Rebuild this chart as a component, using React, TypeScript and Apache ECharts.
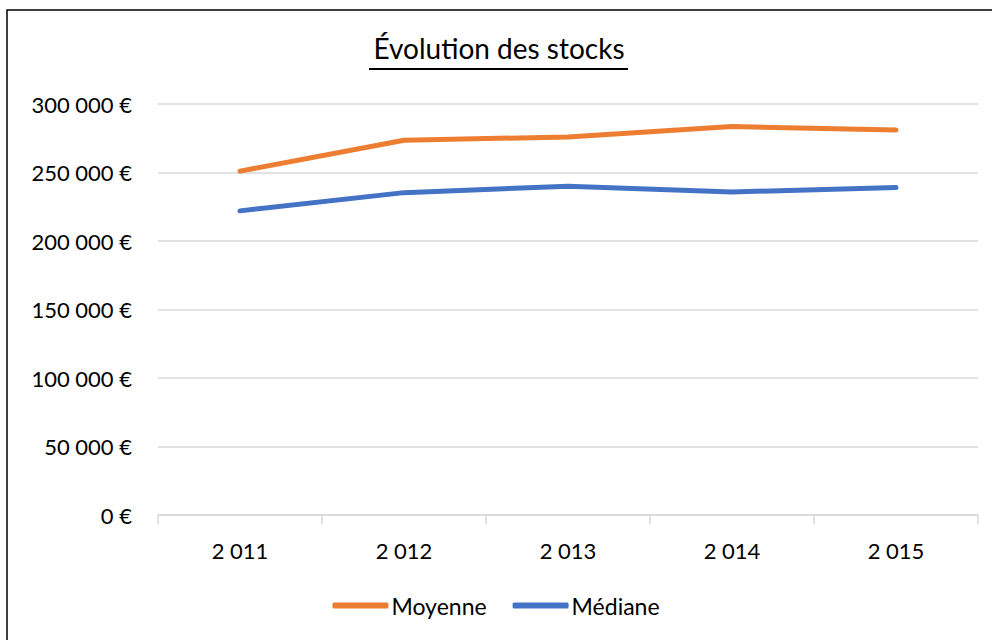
import React, { useEffect, useRef } from "react";
import * as echarts from "echarts";

const categories = ["2 011", "2 012", "2 013", "2 014", "2 015"];
const moyenne = [251000, 273500, 276000, 283500, 281000];
const mediane = [222000, 235300, 240000, 235800, 239000];
const seriesNames = ["Moyenne", "Médiane"];
const titleText = "Évolution des stocks";

const FONT = "Lato";

function fmt(v: number): string {
  return String(v).replace(/\B(?=(\d{3})+(?!\d))/g, " ") + " €";
}

export default function App() {
  const ref = useRef<HTMLDivElement>(null);
  useEffect(() => {
    if (!ref.current) return;
    const chart = echarts.init(ref.current, undefined, { renderer: "svg" });
    chart.setOption({
      animation: false,
      backgroundColor: "#ffffff",
      textStyle: { fontFamily: FONT },
      grid: { left: 158, right: 14, top: 104, bottom: 125, containLabel: false },
      graphic: [
        {
          type: "rect",
          shape: { x: 7, y: 10, width: 1100, height: 700 },
          style: { fill: "none", stroke: "#000000", lineWidth: 1.5 },
          silent: true,
        },
        {
          type: "text",
          x: 499,
          y: 48,
          style: {
            text: titleText,
            font: `28px ${FONT}`,
            fill: "#000000",
            textAlign: "center",
            textVerticalAlign: "middle",
          },
        },
        {
          type: "line",
          shape: { x1: 369, y1: 69, x2: 628, y2: 69 },
          style: { stroke: "#000000", lineWidth: 2 },
        },
      ],
      legend: {
        bottom: 18,
        left: "center",
        itemWidth: 56,
        itemHeight: 6,
        itemGap: 26,
        icon: "roundRect",
        textStyle: { fontSize: 23, color: "#000000", fontFamily: FONT, padding: [0, 0, 0, -2] },
        data: seriesNames,
      },
      xAxis: {
        type: "category",
        data: categories,
        boundaryGap: true,
        axisLine: { lineStyle: { color: "#d9d9d9", width: 1.5 } },
        axisTick: { show: true, length: 9, lineStyle: { color: "#d9d9d9", width: 1.5 } },
        axisLabel: { color: "#000000", fontSize: 22, margin: 24, fontFamily: FONT },
      },
      yAxis: {
        type: "value",
        min: 0,
        max: 300000,
        interval: 50000,
        axisLine: { show: false },
        axisTick: { show: false },
        splitLine: { lineStyle: { color: "#d9d9d9", width: 1.5 } },
        axisLabel: {
          color: "#000000",
          fontSize: 22,
          margin: 26,
          fontFamily: FONT,
          formatter: (v: number) => fmt(v),
        },
      },
      series: [
        {
          name: seriesNames[0],
          type: "line",
          data: moyenne,
          symbol: "none",
          lineStyle: { color: "#ED7D31", width: 5, cap: "round", join: "round" },
          itemStyle: { color: "#ED7D31" },
        },
        {
          name: seriesNames[1],
          type: "line",
          data: mediane,
          symbol: "none",
          lineStyle: { color: "#4472C4", width: 5, cap: "round", join: "round" },
          itemStyle: { color: "#4472C4" },
        },
      ],
    });
    return () => chart.dispose();
  }, []);
  return (
    <div
      ref={ref}
      style={{ position: "fixed", left: 0, top: 0, width: 992, height: 640 }}
    />
  );
}
